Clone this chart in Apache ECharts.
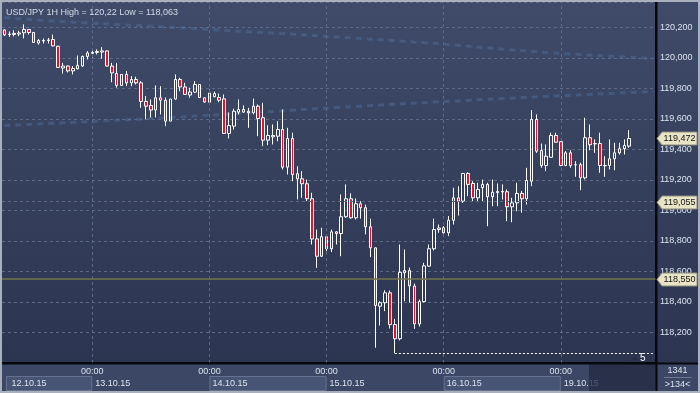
<!DOCTYPE html>
<html><head><meta charset="utf-8">
<script src="https://cdn.jsdelivr.net/npm/echarts@6/dist/echarts.min.js"></script>
<style>html,body{margin:0;padding:0;background:#34405c}#c{width:700px;height:393px}</style>
</head><body><div id="c"></div>
<script>
// ---- data ----
const days = ['12.10.15','13.10.15','14.10.15','15.10.15','16.10.15','19.10.15'];
const firstHour = 6;      // first bar of first day
const lastHour = 14;      // last bar of last day
const shiftBars = 5;      // empty bars on the right

const opens = [
120.184,120.154,120.154,120.157,120.165,120.187,120.167,120.098,120.111,120.115,
120.121,120.077,119.934,119.947,119.915,119.929,119.947,120.010,120.030,120.036,
120.039,120.046,119.947,119.898,119.820,119.892,119.837,119.859,119.837,119.715,
119.689,119.659,119.739,119.723,119.586,119.731,119.859,119.810,119.757,119.776,
119.826,119.739,119.710,119.747,119.741,119.732,119.505,119.553,119.645,119.662,
119.641,119.641,119.684,119.608,119.461,119.483,119.487,119.531,119.284,119.472,
119.241,119.208,119.175,119.077,118.814,118.700,118.828,118.749,118.860,118.849,
118.959,119.077,118.952,119.044,119.018,118.893,118.755,118.372,118.395,118.460,
118.252,118.159,118.591,118.606,118.505,118.256,118.403,118.635,118.749,118.875,
118.887,118.854,118.936,119.083,119.061,119.243,119.177,119.083,119.149,119.171,
119.090,119.118,119.121,119.123,119.024,119.050,119.112,119.077,119.192,119.597,
119.393,119.295,119.349,119.492,119.451,119.295,119.378,119.300,119.300,119.214,
119.477,119.437,119.439,119.293,119.295,119.339,119.378,119.405,119.422];
const closes = [
120.151,120.157,120.161,120.164,120.187,120.167,120.102,120.115,120.115,120.118,
120.079,119.938,119.947,119.915,119.931,119.951,120.010,120.033,120.036,120.043,
120.046,119.947,119.902,119.820,119.892,119.837,119.859,119.837,119.715,119.684,
119.659,119.739,119.723,119.586,119.731,119.859,119.810,119.761,119.777,119.826,
119.741,119.711,119.770,119.767,119.723,119.505,119.557,119.651,119.662,119.645,
119.651,119.684,119.603,119.461,119.492,119.492,119.531,119.284,119.472,119.236,
119.208,119.175,119.077,118.813,118.700,118.828,118.749,118.860,118.849,118.959,
119.077,118.952,119.044,119.018,118.893,118.755,118.377,118.395,118.460,118.252,
118.159,118.595,118.606,118.505,118.256,118.403,118.637,118.749,118.875,118.885,
118.854,118.936,119.083,119.061,119.243,119.171,119.083,119.138,119.171,119.090,
119.120,119.125,119.125,119.024,119.050,119.112,119.077,119.197,119.597,119.389,
119.295,119.356,119.492,119.448,119.295,119.378,119.295,119.300,119.214,119.477,
119.431,119.439,119.295,119.295,119.339,119.378,119.405,119.426,119.472];
const lows = [
120.145,120.138,120.141,120.143,120.128,120.154,120.098,120.088,120.095,120.095,
120.077,119.936,119.898,119.905,119.892,119.925,119.944,119.990,120.003,120.023,
119.995,119.944,119.841,119.805,119.816,119.815,119.815,119.826,119.673,119.597,
119.610,119.610,119.630,119.553,119.586,119.728,119.782,119.761,119.739,119.772,
119.741,119.708,119.706,119.741,119.710,119.502,119.472,119.531,119.630,119.641,
119.542,119.630,119.487,119.422,119.428,119.433,119.454,119.269,119.236,119.192,
119.072,119.083,119.061,118.777,118.624,118.696,118.733,118.727,118.777,118.700,
118.952,118.946,118.941,118.946,118.843,118.694,118.100,118.246,118.340,118.226,
118.063,118.148,118.405,118.395,118.224,118.239,118.397,118.631,118.738,118.854,
118.849,118.832,118.908,118.967,119.050,119.094,119.061,119.061,119.061,118.897,
119.028,119.028,119.072,118.930,118.923,118.995,118.985,119.039,119.159,119.378,
119.280,119.258,119.346,119.444,119.290,119.290,119.280,119.221,119.133,119.203,
119.395,119.378,119.247,119.221,119.269,119.264,119.367,119.367,119.411];
const highs = [
120.187,120.174,120.182,120.178,120.220,120.190,120.171,120.125,120.128,120.131,
120.154,120.079,119.968,119.951,119.946,120.016,120.016,120.045,120.049,120.056,
120.071,120.049,119.968,119.968,119.892,119.914,119.881,119.877,119.848,119.750,
119.728,119.820,119.815,119.741,119.731,119.892,119.870,119.837,119.805,119.848,
119.826,119.739,119.793,119.780,119.767,119.761,119.643,119.667,119.728,119.689,
119.673,119.734,119.695,119.706,119.559,119.564,119.586,119.662,119.542,119.510,
119.290,119.258,119.203,119.116,118.875,118.887,118.843,118.875,118.864,119.105,
119.171,119.112,119.079,119.061,119.039,118.946,118.757,118.405,118.477,118.475,
118.290,118.777,118.744,118.626,118.521,118.416,118.657,118.777,118.946,118.908,
118.897,118.963,119.149,119.159,119.243,119.251,119.192,119.182,119.203,119.182,
119.203,119.177,119.171,119.138,119.083,119.182,119.127,119.280,119.658,119.630,
119.439,119.433,119.510,119.510,119.454,119.389,119.395,119.323,119.313,119.608,
119.564,119.466,119.510,119.356,119.466,119.444,119.444,119.466,119.527];

// long moving averages (read at a few bars)
const maSlowIdx = [0, 8, 42, 85, 111, 133];
const maSlowVal = [120.266, 120.246, 120.187, 120.102, 120.036, 119.997];
const maFastIdx = [0, 34, 68, 102, 133];
const maFastVal = [119.557, 119.610, 119.675, 119.734, 119.780];

const lastPrice = 119.472;
const levelA = 119.055;
const levelB = 118.550;
const chartLow = 118.063;
const lowBar = 80;

const yMin = 118.0, yMax = 120.367, yStep = 0.2;
const titleText = 'USD/JPY 1H High = 120,22 Low = 118,063';
const barsInfo = ['1341', '>134<'];

// ---- build ----
const categories = [];
const dayStart = [];
days.forEach((d, di) => {
  const h0 = di === 0 ? firstHour : 0;
  const h1 = di === days.length - 1 ? lastHour : 23;
  for (let h = h0; h <= h1; h++) {
    if (h === 0) dayStart.push(categories.length);
    categories.push(d + ' ' + String(h).padStart(2, '0') + ':00');
  }
});
const nReal = categories.length;
for (let k = 0; k < shiftBars; k++) categories.push('');

const fmt = v => v.toFixed(3).replace('.', ',');
const FONT = 'Liberation Sans, Arial, sans-serif';
const TXT = '#dce3ee';

const candles = opens.map((o, i) => [o, closes[i], lows[i], highs[i]]);

const chart = echarts.init(document.getElementById('c'), null, {renderer: 'canvas', devicePixelRatio: 1});

const option = {
  animation: false,
  backgroundColor: {
    type: 'linear', x: 0, y: 0, x2: 0, y2: 1,
    colorStops: [{offset: 0, color: '#3f4b69'}, {offset: 1, color: '#2a334e'}]
  },
  title: {
    text: titleText, left: 1, top: 3,
    textStyle: {color: '#d3dae6', fontSize: 9, fontWeight: 'normal', fontFamily: FONT}
  },
  grid: {left: 2, right: 44, top: 2, bottom: 30, outerBoundsMode: 'none'},
  xAxis: [{
    type: 'category', data: categories, position: 'bottom',
    axisLine: {show: true, lineStyle: {color: '#07090e', width: 2}},
    axisTick: {show: false},
    splitLine: {show: false},
    axisLabel: {
      show: true, color: TXT, fontSize: 9, fontFamily: FONT, margin: 4,
      interval: (idx, val) => val.endsWith(' 00:00'),
      formatter: val => val.split(' ')[1]
    }
  }, {
    type: 'category', data: categories, position: 'bottom', offset: 12,
    axisLine: {show: false}, axisTick: {show: false}, splitLine: {show: false},
    axisLabel: {
      show: true, color: TXT, fontSize: 9, fontFamily: FONT, margin: 4, align: 'left',
      interval: (idx, val) => idx === 0 || val.endsWith(' 00:00'),
      formatter: (val, idx) => idx === 0 ? '{f|' + val.split(' ')[0] + '}' : '{d|' + val.split(' ')[0] + '}',
      rich: {
        f: {padding: [0, 0, 0, 7], color: TXT, fontSize: 9, fontFamily: FONT},
        d: {padding: [0, 0, 0, 3], color: TXT, fontSize: 9, fontFamily: FONT}
      }
    }
  }],
  yAxis: {
    type: 'value', position: 'right', min: yMin, max: yMax, interval: yStep,
    axisLine: {show: true, lineStyle: {color: '#07090e', width: 2}},
    axisTick: {show: false},
    axisLabel: {color: TXT, fontSize: 9, fontFamily: FONT, margin: 4, formatter: fmt,
      showMinLabel: false, showMaxLabel: false},
    splitLine: {show: true, lineStyle: {color: '#5c6987', width: 1, type: [3, 3]}}
  },
  series: [{
    type: 'line', name: 'maSlow', z: 1, silent: true, smooth: true, showSymbol: false,
    data: maSlowIdx.map((x, i) => [x, maSlowVal[i]]),
    lineStyle: {color: 'rgba(82,112,160,0.45)', width: 3, type: [6, 5]},
    markLine: {
      silent: true, symbol: ['none', 'none'], label: {show: false},
      lineStyle: {color: '#5c6987', width: 1, type: [3, 3]},
      data: dayStart.map(i => ({xAxis: i}))
    }
  }, {
    type: 'line', name: 'maFast', z: 1, silent: true, smooth: true, showSymbol: false,
    data: maFastIdx.map((x, i) => [x, maFastVal[i]]),
    lineStyle: {color: 'rgba(82,112,160,0.45)', width: 3, type: [6, 5]},
    markLine: {
      silent: true, symbol: ['none', 'none'], label: {show: false},
      data: [
        {yAxis: levelB, lineStyle: {color: '#70744a', width: 1.5, type: 'solid'}},
        {yAxis: levelA, lineStyle: {color: '#5c6987', width: 1, type: [3, 3]}}
      ]
    }
  }, {
    type: 'candlestick', name: 'USD/JPY', z: 3, data: candles, barWidth: 3,
    itemStyle: {color: 'rgba(0,0,0,0)', color0: '#e3122e', borderColor: '#ffffff', borderColor0: '#ffffff', borderWidth: 1},
    markLine: {
      silent: true, symbol: ['none', 'none'], label: {show: false},
      lineStyle: {color: '#ffffff', width: 1, type: [2, 2]},
      data: [[{coord: [lowBar, chartLow]}, {coord: [categories.length - 1, chartLow]}]]
    }
  }]
};
chart.setOption(option);

// ---- overlays (price tags, time-axis panel) ----
const px = (i, v) => chart.convertToPixel({gridIndex: 0}, [i, v]);
const g = [];
// time axis panel
g.push({type: 'rect', z: -5, shape: {x: 0, y: 364, width: 700, height: 29}, style: {fill: '#3b4765'}});
// date boxes on alternate days
const tickX = dayStart.map(i => px(i, yMin)[0]);
const boxes = [[6, tickX[0] - 1], [tickX[1], tickX[2] - 1], [tickX[3], tickX[4] - 1]];
boxes.forEach(b => g.push({type: 'rect', z: -4, shape: {x: b[0] + 0.5, y: 376.5, width: b[1] - b[0], height: 14},
  style: {fill: '#475473', stroke: '#65718f', lineWidth: 1}}));
// dim area over the right end of the time axis
g.push({type: 'rect', z: 50, shape: {x: 589, y: 364, width: 67, height: 27}, style: {fill: 'rgba(36,44,66,0.78)'}});
// right-bottom info
g.push({type: 'rect', z: -4, shape: {x: 657, y: 364, width: 43, height: 29}, style: {fill: '#3b4765'}});
g.push({type: 'text', z: 60, style: {text: barsInfo[0], x: 677.5, y: 371, align: 'center', verticalAlign: 'middle', fill: TXT, font: '9px ' + FONT}});
g.push({type: 'line', z: 60, shape: {x1: 664, y1: 377.5, x2: 692, y2: 377.5}, style: {stroke: '#6b7794', lineWidth: 1}});
g.push({type: 'text', z: 60, style: {text: barsInfo[1], x: 677.5, y: 384.5, align: 'center', verticalAlign: 'middle', fill: TXT, font: '9px ' + FONT}});
// separators of price scale and time scale
g.push({type: 'line', z: 60, shape: {x1: 656.5, y1: 0, x2: 656.5, y2: 393}, style: {stroke: '#07090e', lineWidth: 2}});
g.push({type: 'line', z: 60, shape: {x1: 0, y1: 363.5, x2: 700, y2: 363.5}, style: {stroke: '#07090e', lineWidth: 2}});
// price tags
[lastPrice, levelA, levelB].forEach(v => {
  const y = Math.round(px(0, v)[1]) + 0.5;
  g.push({type: 'polygon', z: 70, shape: {points: [[657, y], [662, y - 6.5], [697, y - 6.5], [697, y + 6.5], [662, y + 6.5]]},
    style: {fill: '#e8e4c6', stroke: '#8d8d7c', lineWidth: 1}});
  g.push({type: 'text', z: 71, style: {text: fmt(v), x: 679.5, y: y, align: 'center', verticalAlign: 'middle', fill: '#141414', font: '9px ' + FONT}});
});
// shift marker near low line
const lp = px(nReal + 1, chartLow);
g.push({type: 'polygon', z: 70, shape: {points: [[lp[0] - 8, lp[1] + 7], [lp[0] - 4, lp[1] + 3], [lp[0], lp[1] + 7]]}, style: {fill: '#262e46'}});
g.push({type: 'text', z: 71, style: {text: String(shiftBars), x: lp[0] + 1, y: lp[1] + 5, align: 'left', verticalAlign: 'middle', fill: '#ffffff', font: '10px ' + FONT}});
// frame
g.push({type: 'rect', z: 80, shape: {x: 1, y: 1, width: 698, height: 391}, style: {fill: 'none', stroke: '#a8b0be', lineWidth: 2}});
chart.setOption({graphic: g});
</script></body></html>
